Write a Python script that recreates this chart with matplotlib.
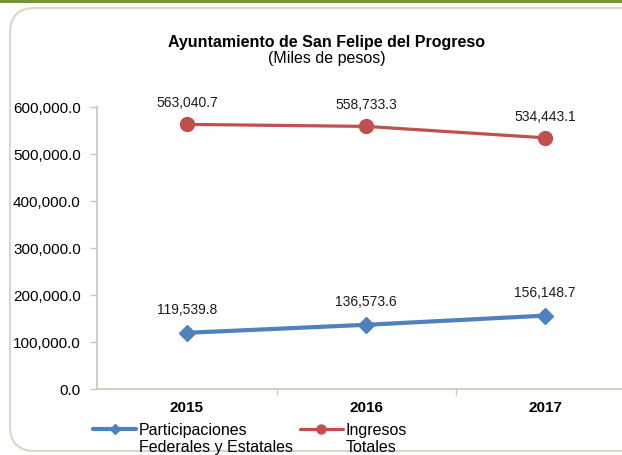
import numpy as np
import matplotlib
matplotlib.use("Agg")
import matplotlib.pyplot as plt
from matplotlib.patches import FancyBboxPatch, Rectangle
from matplotlib.legend_handler import HandlerLine2D

plt.rcParams['font.family'] = ['Liberation Sans', 'DejaVu Sans']

# data
years = ['2015', '2016', '2017']
participaciones = [119539.8, 136573.6, 156148.7]
ingresos = [563040.7, 558733.3, 534443.1]
yticks = [0, 100000, 200000, 300000, 400000, 500000, 600000]

W, H = 622, 456
fig = plt.figure(figsize=(W / 100, H / 100), dpi=100)

# green strip on top + rounded frame (behind the axes)
fig.patches.append(Rectangle((0, 1 - 4 / H), 1, 4 / H, transform=fig.transFigure,
                             facecolor='#76923C', edgecolor='none', zorder=-10))
fig.patches.append(FancyBboxPatch((10 / W, 4 / H), 640 / W, 443 / H,
                                  boxstyle='round,pad=0,rounding_size=0.04',
                                  transform=fig.transFigure, facecolor='white',
                                  edgecolor='#d8d8c8', linewidth=1.5,
                                  mutation_aspect=W / H, zorder=-10))

ax = fig.add_axes([97.5 / W, 1 - 390 / H, 537 / W, 282 / H])
x = np.arange(len(years))

ax.plot(x, participaciones, color='#4F81BD', lw=3, marker='D', ms=8.5,
        label='Participaciones\nFederales y Estatales', solid_capstyle='round')
ax.plot(x, ingresos, color='#C0504D', lw=2.3, marker='o', ms=10,
        label='Ingresos\nTotales', solid_capstyle='round')

for xi, v in zip(x, participaciones):
    ax.annotate(f'{v:,.1f}', (xi, v), xytext=(0, 12), textcoords='offset points',
                ha='center', va='bottom', fontsize=10, color='#1a1a1a')
for xi, v in zip(x, ingresos):
    ax.annotate(f'{v:,.1f}', (xi, v), xytext=(0, 11), textcoords='offset points',
                ha='center', va='bottom', fontsize=10, color='#1a1a1a')

ax.set_xlim(-0.5, 2.5)
ax.set_ylim(0, 600000)
ax.set_yticks(yticks)
ax.set_yticklabels([f'{t:,.1f}' for t in yticks], fontsize=11)
ax.set_xticks(x)
ax.set_xticklabels(years, fontsize=11, fontweight='bold')
ax.set_xticks([0.5, 1.5], minor=True)
ax.tick_params(axis='x', which='major', length=0, pad=8)
ax.tick_params(axis='x', which='minor', length=4, color='#c8c8b8', width=1)
ax.tick_params(axis='y', length=5, color='#c8c8b8', width=1, pad=7)

for s in ['top', 'right']:
    ax.spines[s].set_visible(False)
for s in ['left', 'bottom']:
    ax.spines[s].set_color('#c8c8b8')
    ax.spines[s].set_linewidth(1.2)
ax.patch.set_alpha(0)

fig.text(327 / W, 1 - 42 / H, 'Ayuntamiento de San Felipe del Progreso',
         ha='center', va='center', fontsize=11.5, fontweight='bold')
fig.text(327 / W, 1 - 58 / H, '(Miles de pesos)', ha='center', va='center',
         fontsize=11.5)


# legend handles sit on the first line of the two-line labels
class TopHandler(HandlerLine2D):
    def create_artists(self, legend, orig_handle, xdescent, ydescent, width,
                       height, fontsize, trans):
        arts = super().create_artists(legend, orig_handle, xdescent, ydescent,
                                      width, height, fontsize, trans)
        for a in arts:
            a.set_ydata(np.asarray(a.get_ydata()) + 7)
        return arts


lines = ax.get_lines()
fig.legend(handles=lines, loc='upper left', bbox_to_anchor=(93 / W, 1 - 423 / H),
           ncol=2, frameon=False, fontsize=11.5, handlelength=2.7,
           handletextpad=0.15, columnspacing=0.45, labelspacing=0.2,
           borderaxespad=0, borderpad=0, markerscale=0.65,
           handler_map={l: TopHandler() for l in lines})

fig.savefig('out.png', dpi=100)
